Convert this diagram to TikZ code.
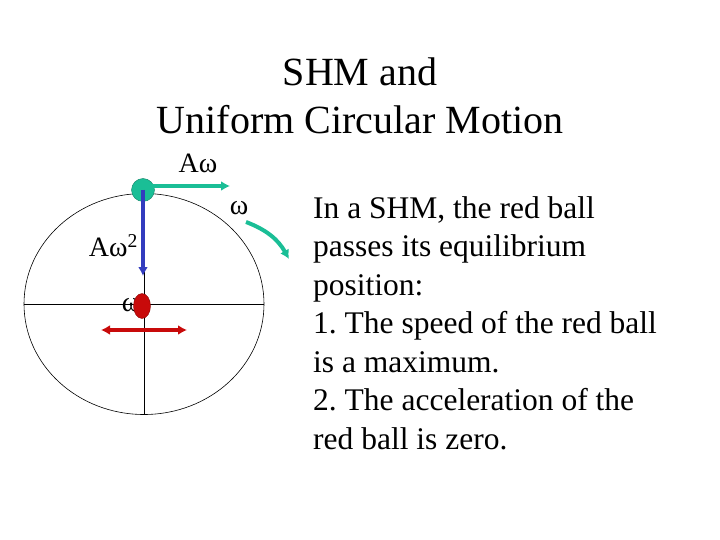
\documentclass[tikz,border=0pt]{standalone}
\usepackage{fontspec}
\setmainfont{Liberation Serif}
\usetikzlibrary{shapes.geometric,arrows.meta}
\begin{document}
\frenchspacing
\begin{tikzpicture}[x=1pt,y=-1pt,
  lbl/.style={inner sep=0pt,font=\fontsize{28}{32}\selectfont},
  arr/.style={line width=3.5pt,-{Latex[length=9pt,width=10pt]}}]
\useasboundingbox (0,0) rectangle (720,540);
\definecolor{teal1}{RGB}{26,190,150}
\definecolor{blu}{RGB}{50,60,190}
\definecolor{rd}{RGB}{200,10,10}
\node[inner sep=0pt,align=center,font=\fontsize{40}{48}\selectfont] (title) at (360,96) {SHM and\\Uniform Circular Motion};
\node[draw,ellipse,minimum width=240,minimum height=221,inner sep=0pt,line width=0.6pt] (circ) at (144,304) {};
\draw[line width=0.6pt] (circ.west) -- (circ.east);
\draw[line width=0.6pt] (circ.north) -- (circ.south);
\node[circle,fill=teal1,draw=teal1!70!black,minimum size=23,inner sep=0pt] (g) at (143,190) {};
\draw[arr,teal1] (143,186) coordinate (gs) -- (230,186) coordinate (ge);
\draw[arr,blu] (g.center) -- (143,276) coordinate (be);
\node[lbl] (w0) at (131,305) {ω};
\node[ellipse,fill=rd,draw=rd!70!black,minimum width=17,minimum height=25,inner sep=0pt] (r) at (142,306) {};
\draw[line width=3.5pt,rd,{Latex[length=9pt,width=10pt]}-{Latex[length=9pt,width=10pt]}] (101,330) coordinate (ra) -- (187,330) coordinate (rb);
\draw[arr,line width=4pt,teal1] (246,222) coordinate (ca) to[bend left=20] (289,259) coordinate (cb);
\node[lbl] (aw) at (198,163) {Aω};
\node[lbl] (w) at (239,208) {ω};
\node[lbl,anchor=east] (aw2) at (138,246) {Aω\textsuperscript{2}};
\node[anchor=north west,align=left,inner sep=0pt,font=\fontsize{31.5}{38.5}\selectfont] (txt) at (313,196) {In a SHM, the red ball\\passes its equilibrium\\position:\\1. The speed of the red ball\\is a maximum.\\2. The acceleration of the\\red ball is zero.};
\end{tikzpicture}
\end{document}
